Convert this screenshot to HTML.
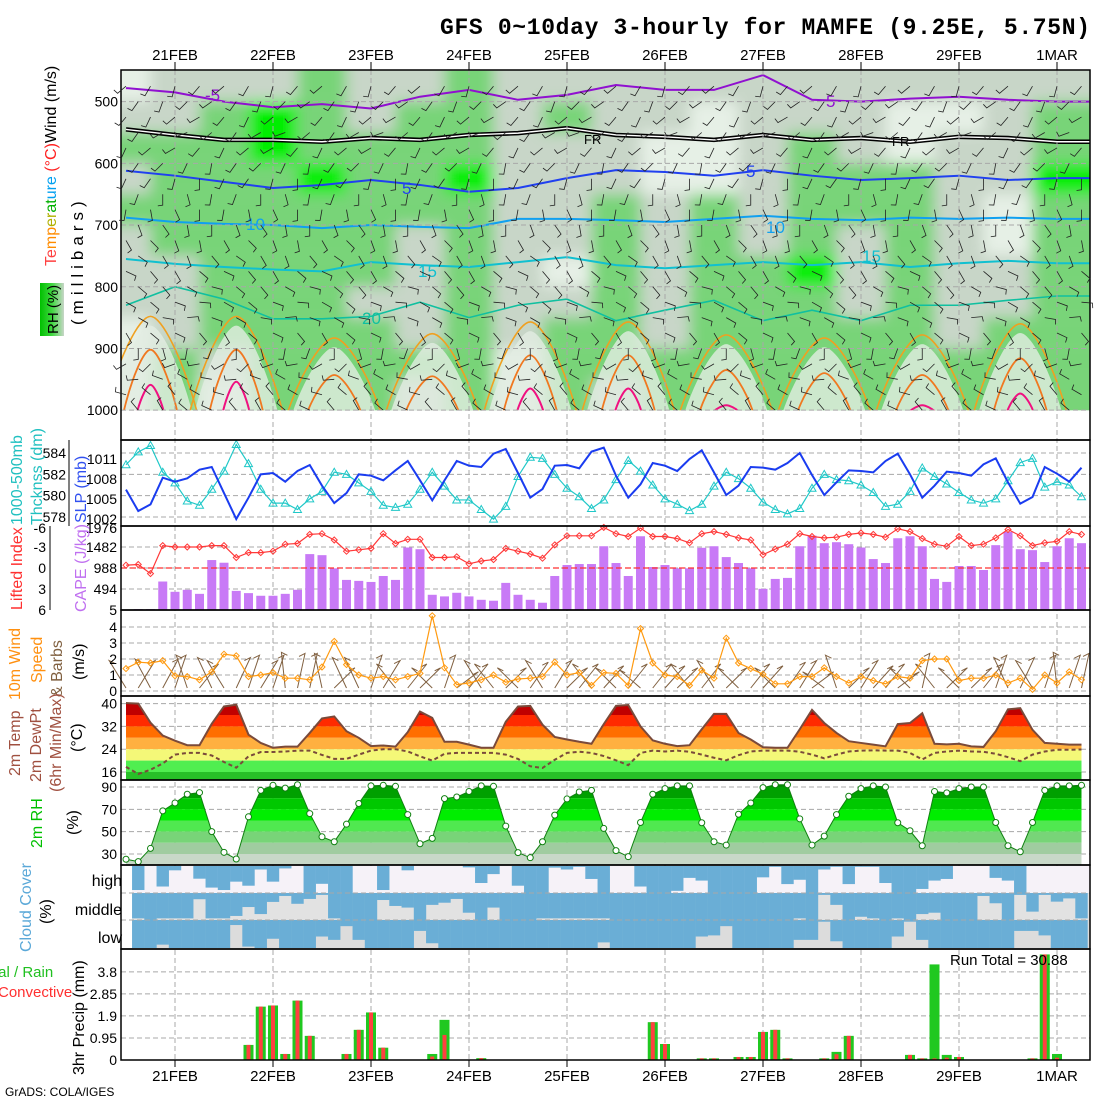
<!DOCTYPE html>
<html><head><meta charset="utf-8"><style>
html,body{margin:0;padding:0;background:#fff;}
svg{display:block;}
text{font-family:"Liberation Sans",sans-serif;}
</style></head><body>
<svg id="chart" width="1100" height="1100" viewBox="0 0 1100 1100" xmlns="http://www.w3.org/2000/svg">
<defs>
<clipPath id="topClip"><rect x="121" y="70.8" width="969" height="339.4"/></clipPath>
<clipPath id="tempClip"><path id="tempClipPath" d=""/></clipPath>
<clipPath id="rhClip"><path id="rhClipPath" d=""/></clipPath>
<filter id="blur" x="-5%" y="-5%" width="110%" height="110%"><feGaussianBlur stdDeviation="7"/></filter>
<linearGradient id="rhLeg" x1="0" x2="1" y1="0" y2="0"><stop offset="0" stop-color="#00c000"/><stop offset="0.5" stop-color="#40d840"/><stop offset="1" stop-color="#c8d6c8"/></linearGradient>
</defs>
<text x="440" y="34" font-family="Liberation Mono, monospace" font-weight="bold" font-size="23" textLength="650" style="font-family:'Liberation Mono',monospace">GFS 0~10day 3-hourly for MAMFE (9.25E, 5.75N)</text>
<g id="field" clip-path="url(#topClip)"></g>
<g id="grid"></g>
<g id="marks"></g>
<g id="frames"></g>
<g id="labels" font-size="14"></g>
<text transform="translate(56,266) rotate(-90)" font-size="16"><tspan fill="#ff4040">Te</tspan><tspan fill="#ff8c00">mp</tspan><tspan fill="#b0b000">er</tspan><tspan fill="#00b000">at</tspan><tspan fill="#00a0f0">ure</tspan><tspan fill="#ff2020"> (°C)</tspan><tspan fill="#000">Wind (m/s)</tspan></text>
<rect x="40" y="283" width="24" height="53" fill="url(#rhLeg)"/>
<text transform="translate(58,334) rotate(-90)" font-size="15" fill="#000">RH (%)</text>
<text transform="translate(83,325) rotate(-90)" font-size="17" letter-spacing="5" fill="#000">(millibars)</text>
<text transform="translate(22,525) rotate(-90)" font-size="16" fill="#20c0c0">1000-500mb</text>
<text transform="translate(42,525) rotate(-90)" font-size="16" fill="#20c0c0">Thcknss (dm)</text>
<text transform="translate(86,523) rotate(-90)" font-size="16" fill="#3050f0">SLP (mb)</text>
<text transform="translate(22,610) rotate(-90)" font-size="16" fill="#ff3030">Lifted Index</text>
<text transform="translate(86,612) rotate(-90)" font-size="16" fill="#c070f0">CAPE (J/kg)</text>
<text transform="translate(20,700) rotate(-90)" font-size="16" fill="#ff9010">10m Wind</text>
<text transform="translate(42,683) rotate(-90)" font-size="16" fill="#ff9010">Speed</text>
<text transform="translate(62,697) rotate(-90)" font-size="16" fill="#806040">&amp; Barbs</text>
<text transform="translate(84,680) rotate(-90)" font-size="16" fill="#000">(m/s)</text>
<text transform="translate(20,776) rotate(-90)" font-size="16" fill="#a05040">2m Temp</text>
<text transform="translate(41,782) rotate(-90)" font-size="16" fill="#a05040">2m DewPt</text>
<text transform="translate(61,792) rotate(-90)" font-size="16" fill="#a05040">(6hr Min/Max)</text>
<text transform="translate(82,752) rotate(-90)" font-size="16" fill="#000">(°C)</text>
<text transform="translate(42,848) rotate(-90)" font-size="16" fill="#00c000">2m RH</text>
<text transform="translate(78,835) rotate(-90)" font-size="16" fill="#000">(%)</text>
<text transform="translate(31,952) rotate(-90)" font-size="16" fill="#5aa8d8">Cloud Cover</text>
<text transform="translate(51,924) rotate(-90)" font-size="16" fill="#000">(%)</text>
<text x="122" y="886" font-size="16" text-anchor="end">high</text>
<text x="122" y="915" font-size="16" text-anchor="end">middle</text>
<text x="122" y="943" font-size="16" text-anchor="end">low</text>
<text x="-6" y="977" font-size="15" fill="#20c020">tal / Rain</text>
<text x="-2" y="997" font-size="15" fill="#ff3030">Convective</text>
<text transform="translate(84,1075) rotate(-90)" font-size="16" fill="#000">3hr Precip (mm)</text>
<text x="950" y="965" font-size="15" fill="#000">Run Total = 30.88</text>
<text x="5" y="1096" font-size="12" fill="#000">GrADS: COLA/IGES</text>
</svg>
<script>
// ---------- data ----------
const dayLabels=['21FEB','22FEB','23FEB','24FEB','25FEB','26FEB','27FEB','28FEB','29FEB','1MAR'];
const slp=[1006.4,1003.2,1004.2,1008.2,1007.6,1008.1,1009.4,1009.8,1005.9,1002,1005.2,1008.7,1008.9,1007.6,1009.2,1010.1,1007,1004.4,1005.9,1008.7,1008.5,1007.8,1009.3,1010.7,1007.8,1004.8,1007.8,1010.7,1010,1009.8,1011.8,1012.5,1008.9,1005.2,1006.5,1010,1010.1,1009.6,1012.1,1012.7,1008.5,1005.2,1007.2,1010.4,1010,1009.2,1011,1012.3,1009,1005.6,1007,1009.8,1009.7,1009.4,1010.4,1011.9,1008.6,1005.6,1007.5,1009.3,1009.2,1009,1010.7,1011.8,1008.7,1005.2,1007,1009.1,1008.9,1008.5,1010.2,1011.1,1007.5,1004.3,1005.3,1009.8,1008.8,1007.6,1009.7];
const thick=[582.9,584.1,584.7,582.2,581.2,579.5,579.1,580.6,582.3,584.8,583,580.6,579.3,579.3,578.7,579.7,580.4,582.2,582,581.2,580.4,579.1,578.9,579.2,580.6,582.2,580.9,579.6,579.6,578.7,577.8,579,581.8,583.6,583.5,582,580.7,579.9,578.8,579.6,581.5,583.3,582.3,581,579.7,579.2,578.6,579.2,580.9,582.2,581.6,580.7,579.4,578.7,578.3,578.8,580.7,582,581.5,581.4,581,580.3,579,579.2,580.4,582.6,581.8,581.1,580.3,579.6,579.3,579.7,581.4,583.1,583.5,580.8,581.3,581,579.9];
const liftedIndex=[-0.4,-0.5,0.8,-3.2,-3,-3,-3,-3.2,-3.2,-1.5,-2.2,-2.2,-2.4,-3.4,-3.5,-4.8,-4.9,-4,-2.4,-2.6,-2.8,-4.9,-3.5,-4.1,-4.1,-1.5,-1.5,-1.6,-0.6,-1,-1.2,-2.8,-2.4,-2,-1.4,-3.3,-4.6,-4.6,-4.6,-5.8,-4.9,-4.5,-5.7,-4.5,-4.5,-4.2,-3.6,-4.9,-5.2,-4.8,-4.3,-4,-1.9,-2.7,-3.4,-4.9,-4.5,-4.3,-4.4,-4.8,-5,-4.8,-4.4,-5.6,-5.2,-4.2,-3.4,-3.1,-4.5,-3.2,-3.4,-4.3,-5.5,-4.6,-3.2,-3.6,-3.8,-5.2,-4.8];
const cape=[0,20,20,670,428,475,380,1175,1112,450,397,335,335,380,475,1315,1290,980,708,685,660,800,708,1470,1430,358,320,405,320,240,218,638,358,240,171,800,1058,1081,1081,1500,1105,800,1735,1011,1058,980,980,1463,1500,1245,1105,980,498,731,755,1500,1750,1572,1595,1548,1470,1198,1105,1688,1735,1500,731,661,1035,1035,941,1525,1836,1431,1408,1128,1500,1688,1572];
const windSpeed=[1.4,1.8,1.75,1.9,0.95,0.9,0.7,1.2,2.3,2.2,0.9,1.0,1.15,0.8,0.8,0.7,1.5,3.1,1.65,1.0,0.8,0.9,0.7,0.9,1.1,4.7,1.45,0.4,0.5,0.7,1.0,0.55,0.75,0.8,0.9,1.8,1.0,1.15,0.35,1.15,1.1,0.35,3.9,1.75,1.0,0.9,0.35,1.3,0.8,3.3,1.75,1.4,1.05,0.45,0.45,0.9,0.9,1.45,0.9,0.5,0.9,0.65,0.45,0.9,0.8,1.9,2.0,2.0,0.65,0.8,0.8,1.0,0.5,0.8,0.1,1.0,0.5,1.2,0.7];
const windDir10=[140,40,135,45,60,120,30,130,140,50,300,320,60,100,290,70,110,20,130,130,60,40,150,30,20,160,60,10,30,140,150,20,160,35,140,40,20,30,150,25,160,30,165,30,25,20,150,30,140,20,160,30,25,160,35,40,10,170,120,20,40,25,30,10,160,70,150,20,160,20,30,60,130,50,140,60,100,60,70];
const temp2m=[40.2,40,33.3,28.8,27,25.4,25.4,32.9,39,39.6,29.1,26.2,24.5,24.9,24.9,29.7,34.8,35.5,30.3,28,25.1,25.3,24.9,30,37.2,35,26.6,26.6,25.6,24.5,24.5,33.6,39,39.2,32.6,28.3,27.4,26.6,25.9,32.8,39.2,39.5,32,27.1,25.9,25.1,25.4,31,36.4,36.4,29.7,27.4,24.7,24.5,24.5,31,37.8,33.2,29.7,26.8,26.2,25.6,25,32.8,33.2,36.6,25.9,25.7,25.9,25,24.8,30.3,38,38.4,30.8,26.2,25.9,25.6,25.6];
const dewpt2m=[17.8,15.3,16.8,19,22.1,22.7,22.7,21.8,19.5,17.5,21.5,23,23,23.2,23.5,23.5,22,20.6,20.6,22.1,23.5,24,24,23.2,21.5,20,22.4,22.7,22.7,22.7,22.7,22.1,20.6,18,17.4,20.3,22.7,23.1,22.7,21.6,20.1,18.4,22.7,23.5,23.2,23.5,23.1,22.1,21,20.1,21.9,23.2,23.5,23.5,23.5,23.1,22.1,20.8,22.1,23.2,23.5,23.6,23.5,23.5,22.7,20.4,22.7,23.2,23.5,23.2,23.1,22.4,21.2,19.8,22.1,23.2,23.8,23.8,23.9];
const rh2m=[25.3,23.2,35,68.6,75.7,83.5,85,50,31.5,25.5,63.3,87,91.5,89,92,66.2,45.4,41,56.7,75.2,91,91.5,90.6,65.3,39.2,44,79.6,81,86,91,90.6,55,31.2,26.7,41,64.8,79.3,85.5,87,52.9,33,27.6,58.2,83.5,88.5,91,91,58,41,38,65.6,75.7,89.4,92,92,61.5,38,46,65.3,81.7,88.5,91,90,58,50.8,37.4,86,84.7,88.5,90,90,58.2,37.4,32,58.2,87,91,91,91.5];
const cloudHigh=[0,.89,0,.76,.16,0,.47,.8,.89,.58,.73,.13,.58,.09,0,1,.66,1,1,0,0,.89,0,.16,0,0,0,0,.05,.63,.3,0,.73,1,1,.06,.13,.03,.48,1,0,0,.76,1,1,.92,.44,.54,1,1,1,1,.42,.03,.67,.51,1,.13,.03,.67,.03,.03,.63,1,1,.85,.54,.48,0,0,0,.44,.54,1,0,0,0,0,0];
const cloudMid=[1,.94,1,.94,.94,.94,.23,.94,.94,.85,.52,.78,.33,.11,.4,.22,.07,.94,1,1,1,.26,.48,.54,1,.44,.36,.22,.73,1,.54,1,1,1,.94,.94,.94,.94,.94,.94,1,1,1,1,1,1,1,1,1,1,1,1,1,1,1,.94,1,.07,.44,1,.88,.94,1,.94,1,.78,.73,1,1,1,.11,.38,1,.07,.69,.07,.32,.2,.94];
const cloudLow=[1,1,1,.88,1,1,1,1,1,.18,.95,1,.67,1,1,1,.59,.71,.22,.71,1,1,1,1,.39,.83,1,1,1,1,1,1,1,1,1,1,1,1,1,.8,1,1,1,1,1,1,1,.59,.55,.22,1,1,1,1,1,.71,.71,.06,.76,1,1,1,1,.59,.06,.71,1,1,1,1,1,1,1,.39,.39,.55,1,1,1];
const precipTotal=[0,0,0,0,0,0,0,0,0,0,.65,2.3,2.35,.26,2.56,1.04,0,0,.26,1.3,2.05,.53,0,0,0,.26,1.73,0,0,.08,0,0,0,0,0,0,0,0,0,0,0,0,0,1.63,.69,0,0,.07,.07,0,.13,.13,1.21,1.3,.07,0,0,.07,.35,1.04,0,0,0,0,.22,.07,4.12,.22,.13,0,0,0,0,0,.07,4.55,.26,0,0];
const precipConv=[0,0,0,0,0,0,0,0,0,0,.65,2.3,2.35,.26,2.56,1.04,0,0,.26,1.3,2.05,.53,0,0,0,.15,1.08,0,0,.08,0,0,0,0,0,0,0,0,0,0,0,0,0,1.63,.69,0,0,.07,.07,0,.13,.13,1.21,1.3,.07,0,0,.07,.25,1.04,0,0,0,0,.22,.07,.07,.1,.13,0,0,0,0,0,.07,4.55,.1,0,0];
const isoMinus5=[478,485,500,509,504,511,492,481,497,489,473,481,481,457,497,500,495,492,497,500];
const isoFreeze=[545,554,562,562,565,559,562,554,551,543,554,557,562,554,562,559,565,557,559,565];
const iso5=[612,620,630,640,635,627,635,646,640,624,611,614,620,611,620,627,624,620,627,624];
const iso10=[688,695,698,700,705,700,703,705,690,690,692,695,690,685,690,692,688,690,688,690];
const iso15=[755,763,768,772,775,760,765,768,760,752,765,770,765,760,765,760,768,762,758,762];
const iso20=[830,800,820,852,852,848,825,850,830,820,855,838,822,855,838,855,830,830,822,815];
const archTimes=[2,9,17,25,33,41,49,57,65,73];
const arch25Peak=[848,848,883,876,857,857,878,883,878,860];
const arch28Peak=[902,902,943,945,911,911,935,940,943,916];
const arch30Peak=[959,954,0,0,965,965,992,0,992,973];
const rhColumns=["01212111000","11222211122","12222222210","13322222222","22232222222","11222221222","12222111121","22232222222","11111111100","12111101222","11112222221","11001111122","10002222222","11111122222","11222232222","11122111222","10022222222","10111111122","11110011222","12232222222"];
const barbLevelAngle=[230,235,240,250,240,225,215,200,190,180,170,160,150,140,130,120,150,200,260,300,320,330];
const barbTimeOffset=[0,25,-20,40,-35,15,-10,30];

// ---------- scales ----------
const X=i=>126+12.25*i;
const P=p=>70.8+(p-450)*0.617;
const yTh=v=>453+(584-v)*10.67;
const ySlp=v=>459+(1011-v)*6.67;
const yLi=v=>568+v*7;
const yCape=v=>610-v*84/1976;
const yW=v=>691-16*v;
const yT=v=>772-(v-16)*2.85;
const yRH=v=>854-(v-30)*1.117;
const yP=v=>1060-v*23.2;
const NS='http://www.w3.org/2000/svg';
function mk(tag,attrs,parent){const e=document.createElementNS(NS,tag);for(const k in attrs)e.setAttribute(k,attrs[k]);parent.appendChild(e);return e;}
const field=document.getElementById('field'),grid=document.getElementById('grid'),marks=document.getElementById('marks'),frames=document.getElementById('frames'),labels=document.getElementById('labels');

// ---------- top panel RH field ----------
const rhColors=['#e6f0e6','#c8d6c8','#78d478','#00ee00'];
let bg=mk('rect',{x:121,y:70,width:969,height:341,fill:'#c8d6c8'},field);


const fg=mk('g',{filter:'url(#blur)'},field);
rhColumns.forEach((col,k)=>{
  for(let r=0;r<col.length;r++){
    const c=+col[r];
    const x0=(k===0?100:X(4*k)-24.5), x1=(k===rhColumns.length-1?1110:X(4*k)+24.5);
    const y0=(r===0?50:P(450+50*r)), y1=(r===col.length-1?430:P(500+50*r));
    const e=mk('rect',{x:x0,y:y0,width:x1-x0,height:y1-y0,fill:rhColors[c]},fg);
    
    
  }
});
function archPath(t,peak,w){
  const xa=X(t-w),xb=X(t+w),xc=X(t),yb=P(1000)+2,yp=P(peak),h=yb-yp;
  return `M${xa},${yb} C${X(t-w*0.7)},${yb-h*0.55} ${X(t-w*0.25)},${yp} ${xc},${yp} C${X(t+w*0.25)},${yp} ${X(t+w*0.7)},${yb-h*0.55} ${xb},${yb}`;
}
archTimes.forEach((t,k)=>{
  const a=mk('path',{d:archPath(t,arch25Peak[k]+15,3.4),fill:'#e2ece2',stroke:'none',opacity:0.8},field);
  
  
});
function isoLine(arr,color,w,name){
  let d='';arr.forEach((p,k)=>{d+=(k?'L':'M')+X(4*k)+','+P(p);});
  d+='L1092,'+P(arr[arr.length-1]);
  if(name==='isotherm-freezing'){
    const b=mk('path',{d:d,fill:'none',stroke:'#000',"stroke-width":4.5},field);
    
    
    const wl=mk('path',{d:d,fill:'none',stroke:'#fff',"stroke-width":1.4},field);
    
    
    return;
  }
  const e=mk('path',{d:d,fill:'none',stroke:color,"stroke-width":w},field);
  
  
}
isoLine(isoMinus5,'#9010d0',2,'isotherm-minus5');
isoLine(isoFreeze,'#000',2,'isotherm-freezing');
isoLine(iso5,'#2040f0',2,'isotherm-5');
isoLine(iso10,'#10a0f0',2,'isotherm-10');
isoLine(iso15,'#10c0d0',2,'isotherm-15');
isoLine(iso20,'#10c0a0',1.6,'isotherm-20');
archTimes.forEach((t,k)=>{
  const a=mk('path',{d:archPath(t,arch25Peak[k],3.8),fill:'none',stroke:'#f0a020',"stroke-width":1.6},field);
  
  
  const b=mk('path',{d:archPath(t,arch28Peak[k],2.2),fill:'none',stroke:'#f07820',"stroke-width":1.8},field);
  
  
  if(arch30Peak[k]>0){
    const c=mk('path',{d:archPath(t,arch30Peak[k],1.1),fill:'none',stroke:'#f01080',"stroke-width":2},field);
    
    
  }
});
[['-5',205,101,'#9010d0'],['5',826,107,'#9010d0'],['FR',584,144,'#000'],['FR',892,146,'#000'],['5',402,194,'#2040f0'],['5',746,177,'#2040f0'],['10',246,230,'#10a0f0'],['10',766,233,'#10a0f0'],['15',418,277,'#10c0d0'],['15',862,262,'#10c0d0'],['20',362,324,'#10c0a0']].forEach(l=>{
  const t=mk('text',{x:l[1],y:l[2],fill:l[3],"font-size":l[0]==='FR'?13:17},field);
  t.textContent=l[0];
  
  
});
const barbG=mk('g',{stroke:'#222',"stroke-width":0.8,fill:'none'},document.getElementById('chart'));


for(let i=0;i<79;i++){
  barbLevelAngle.forEach((ang,l)=>{
    const p=475+25*l; if((i+l)%2) return;
    const a=(ang+barbTimeOffset[(i+l)%barbTimeOffset.length])*Math.PI/180;
    const x=X(i),y=(p>1000?425:P(p));
    const x2=x+11*Math.sin(a),y2=y-11*Math.cos(a);
    const fx=x2+5*Math.sin(a+Math.PI/2.2),fy=y2-5*Math.cos(a+Math.PI/2.2);
    const e=mk('path',{d:`M${x},${y}L${x2},${y2}L${fx},${fy}`},barbG);
    
    
  });
}
// ---------- gridlines ----------
const dash={stroke:'#a8a8a8',"stroke-dasharray":'5,3',"stroke-width":1};
dayLabels.forEach((d,k)=>{
  const x=175+98*k;
  const g=mk('line',Object.assign({x1:x,x2:x,y1:70,y2:1060},dash),grid);
  
  
  for(const yy of [[62,70],[1060,1067]]){
    const tk=mk('line',{x1:x,x2:x,y1:yy[0],y2:yy[1],stroke:'#000'},frames);
    
    
  }
  for(const ty of [60,1081]){
    const t=mk('text',{x:x,y:ty,"text-anchor":'middle',"font-size":15},labels);
    t.textContent=d;
    
    
  }
});
function hgrid(y){const g=mk('line',Object.assign({x1:121,x2:1090,y1:y,y2:y},dash),grid);
  
  }
function ylab(txt,x,y,col){const t=mk('text',{x:x,y:y+5,"text-anchor":'end',fill:col||'#000',"font-size":14},labels);t.textContent=txt;
  
  }
[500,600,700,800,900,1000].forEach(p=>{hgrid(P(p));ylab(p,118,P(p));});
[584,582,580,578].forEach(v=>{hgrid(yTh(v));ylab(v,66,yTh(v));});
[1011,1008,1005,1002].forEach(v=>ylab(v,117,ySlp(v)));
[-3,0,3,6].forEach(v=>ylab(v,46,yLi(v)));
ylab(-6,46,yLi(-6)+2);
[1976,1482,988,494,5].forEach((v,k)=>{const y=[526,547,568,589,610][k];if(k>0&&k<4)hgrid(y);ylab(v,117,y+(k===0?2:0));});
[0,1,2,3,4].forEach(v=>{hgrid(yW(v));ylab(v,117,yW(v));});
[40,32,24,16].forEach(v=>{hgrid(yT(v));ylab(v,117,yT(v));});
[90,70,50,30].forEach(v=>{hgrid(yRH(v));ylab(v,117,yRH(v));});
[0,0.95,1.9,2.85,3.8].forEach(v=>{if(v)hgrid(yP(v));ylab(v,117,yP(v));});

// ---------- thickness & SLP ----------
function linePath(arr,f){return arr.map((v,i)=>(i?'L':'M')+X(i)+','+f(v)).join('');}
let e=mk('path',{d:linePath(thick,yTh),fill:'none',stroke:'#20c8c8',"stroke-width":1.2},marks);


thick.forEach((v,i)=>{const x=X(i),y=yTh(v);
  const m=mk('path',{d:`M${x},${y-4}L${x+4},${y+3}L${x-4},${y+3}Z`,fill:'none',stroke:'#20c8c8'},marks);
  
  });
e=mk('path',{d:linePath(slp,ySlp),fill:'none',stroke:'#1a3cf0',"stroke-width":2},marks);


// ---------- CAPE / LI ----------
cape.forEach((v,i)=>{if(v<=0)return;
  const b=mk('rect',{x:X(i)-4.5,y:yCape(v),width:9,height:610-yCape(v),fill:'#c87af6'},marks);
  
  });
e=mk('line',{x1:121,x2:1090,y1:568,y2:568,stroke:'#ff3030',"stroke-dasharray":'6,3',"stroke-width":1.3},marks);


e=mk('path',{d:linePath(liftedIndex,yLi),fill:'none',stroke:'#ff3838',"stroke-width":1.2},marks);


liftedIndex.forEach((v,i)=>{const x=X(i),y=yLi(v);
  const m=mk('path',{d:`M${x},${y-3}L${x+3},${y}L${x},${y+3}L${x-3},${y}Z`,fill:'none',stroke:'#ff3838'},marks);
  
  });
// ---------- 10m wind ----------
windDir10.forEach((d,i)=>{const a=d*Math.PI/180,x=X(i),y=688;
  const dx=22*Math.cos(a),dy=-(Math.abs(24*Math.sin(a))+12);
  const x2=x+dx,y2=y+dy;
  const m=mk('path',{d:`M${x},${y}L${x2},${y2}L${x2+(dx>0?-6:6)},${y2+3}`,fill:'none',stroke:'#806040',"stroke-width":1},marks);
  
  });
e=mk('path',{d:linePath(windSpeed,yW),fill:'none',stroke:'#ff9a10',"stroke-width":1.2},marks);


windSpeed.forEach((v,i)=>{const x=X(i),y=yW(v);
  const m=mk('path',{d:`M${x},${y-3}L${x+3},${y}L${x},${y+3}L${x-3},${y}Z`,fill:'none',stroke:'#ff9a10'},marks);
  
  });
// ---------- temperature ----------
const tLine=linePath(temp2m,yT);
document.getElementById('tempClipPath').setAttribute('d',tLine+`L${X(78)},780L${X(0)},780Z`);
const tg=mk('g',{"clip-path":'url(#tempClip)'},marks);


[[36,45,'#c00000'],[32,36,'#ff2a00'],[28,32,'#ff6e00'],[24,28,'#ffb040'],[20,24,'#f4f878'],[16,20,'#50ee50'],[0,16,'#28c028']].forEach(b=>{
  const yTop=b[1]>=45?690:yT(b[1]);
  const r=mk('rect',{x:121,y:yTop,width:969,height:Math.min(780,yT(b[0]))-yTop,fill:b[2]},tg);
  
  });
e=mk('path',{d:tLine,fill:'none',stroke:'#7a4a3a',"stroke-width":2},marks);


e=mk('path',{d:linePath(dewpt2m,yT),fill:'none',stroke:'#7a4a3a',"stroke-width":2,"stroke-dasharray":'4,3'},marks);


// ---------- RH ----------
const rLine=linePath(rh2m,yRH);
document.getElementById('rhClipPath').setAttribute('d',rLine+`L${X(78)},865L${X(0)},865Z`);
const rg=mk('g',{"clip-path":'url(#rhClip)'},marks);


[[90,100,'#008c00'],[80,90,'#00a000'],[70,80,'#00c800'],[60,70,'#00ee00'],[50,60,'#50e850'],[40,50,'#78d478'],[30,40,'#a0cca0'],[0,30,'#c8d8c8']].forEach(b=>{
  const yTop=yRH(b[1]);
  const r=mk('rect',{x:121,y:yTop,width:969,height:Math.min(865,yRH(b[0]))-yTop,fill:b[2]},rg);
  
  });
e=mk('path',{d:rLine,fill:'none',stroke:'#108010',"stroke-width":1},marks);


rh2m.forEach((v,i)=>{const c=mk('circle',{cx:X(i),cy:yRH(v),r:3,fill:'#fff',stroke:'#108010'},marks);
  
  });
// ---------- clouds ----------
const bands=[[cloudHigh,866,893,'#f6f2f8'],[cloudMid,893,920,'#e2e2e2'],[cloudLow,920,948,'#dcdcdc']];
bands.forEach(b=>{
  const r=mk('rect',{x:132,y:b[1],width:958,height:b[2]-b[1],fill:b[3]},marks);
  
  
  b[0].forEach((v,i)=>{if(i===0||v<=0)return;
    const c=mk('rect',{x:X(i)-6.2,y:b[1],width:12.4,height:(b[2]-b[1])*v,fill:'#6aaed6'},marks);
    
    });
});
[893,920].forEach(y=>{const l=mk('line',Object.assign({x1:121,x2:1090,y1:y,y2:y},dash),marks);
  
  });
// ---------- precip ----------
precipTotal.forEach((v,i)=>{if(v<=0)return;
  const b=mk('rect',{x:X(i)-5,y:yP(v),width:10,height:1060-yP(v),fill:'#20c820'},marks);
  
  });
precipConv.forEach((v,i)=>{if(v<=0)return;
  const b=mk('rect',{x:X(i)-2,y:yP(v),width:4,height:1060-yP(v),fill:'#ff4040'},marks);
  
  });
// ---------- frames ----------
[[70,440],[440,526],[526,610],[610,696],[696,780],[780,865],[865,949],[949,1060]].forEach(p=>{
  const r=mk('rect',{x:121,y:p[0],width:969,height:p[1]-p[0],fill:'none',stroke:'#000',"stroke-width":1.5},frames);
  
  });
e=mk('line',{x1:69,x2:69,y1:440,y2:526,stroke:'#000'},frames);


e=mk('line',{x1:50,x2:50,y1:526,y2:610,stroke:'#000'},frames);


</script>
</body></html>
